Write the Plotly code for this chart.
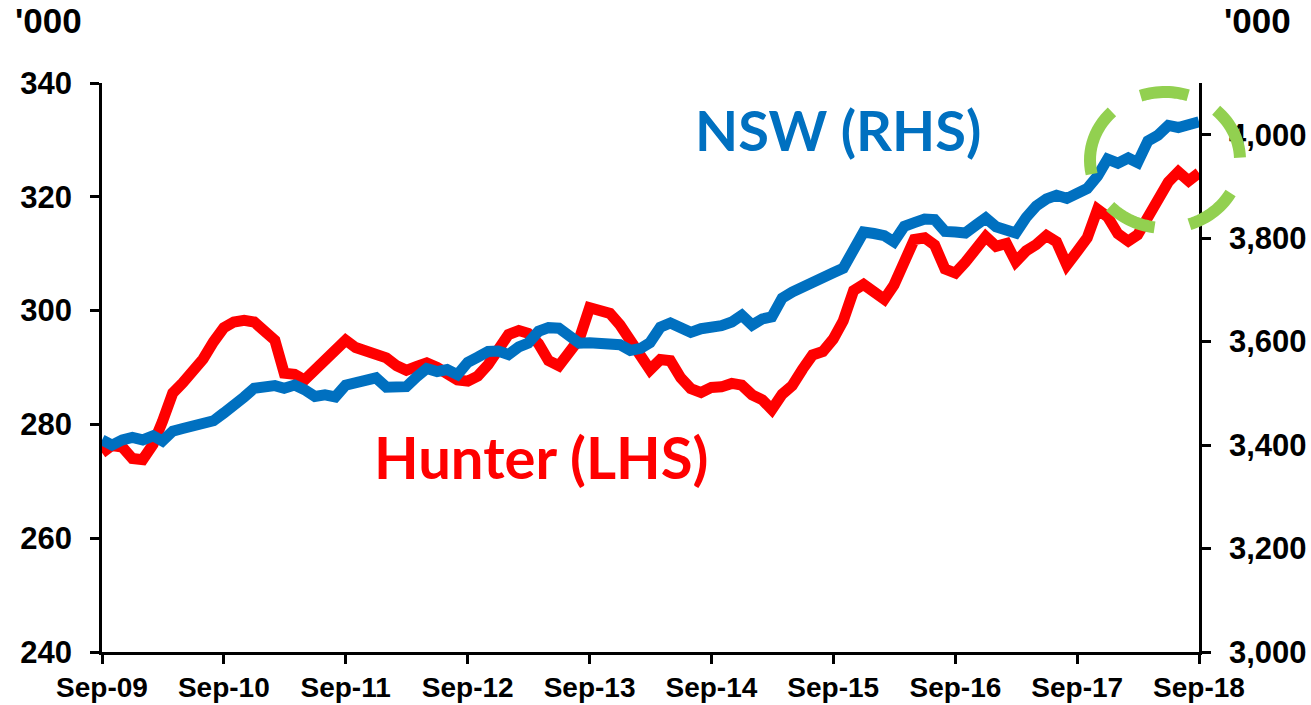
import numpy as np
import pandas as pd
import plotly.graph_objects as go

# ---- data ----
months = pd.date_range("2009-09-01", periods=109, freq="MS")

hunter = [275.0, 276.3, 276.0, 274.0, 273.8, 276.5, 280.5, 285.5, 287.3, 289.5,
          291.5, 294.5, 297.0, 298.0, 298.3, 298.0, 296.5, 294.8, 289.0, 288.8,
          287.8, 289.5, 291.0, 293.0, 294.8, 293.5, 293.0, 292.6, 291.7, 290.3,
          289.5, 290.2, 290.8, 290.0, 289.0, 287.8, 287.6, 288.5, 290.5, 292.8,
          295.8, 296.5, 296.0, 294.2, 291.2, 290.3, 292.6, 295.0, 300.5, 300.2,
          299.5, 297.5, 294.8, 291.8, 289.6, 291.4, 291.2, 288.2, 286.3, 285.6,
          286.5, 286.6, 287.2, 286.9, 285.2, 284.3, 282.6, 285.3, 286.8, 289.7,
          292.2, 292.8, 295.0, 298.2, 303.5, 304.6, 303.1, 302.0, 304.5, 309.0,
          312.5, 312.8, 311.5, 307.3, 306.6, 308.5, 311.0, 313.0, 311.3, 311.8,
          308.6, 310.5, 311.6, 313.2, 312.1, 308.0, 310.4, 312.8, 317.8, 316.5,
          313.5, 312.2, 313.3, 316.2, 319.8, 322.6, 324.4, 322.8, 324.2]

nsw = [3410, 3400, 3410, 3415, 3410, 3418, 3408, 3427, 3432, 3437,
       3442, 3447, 3462, 3475, 3493, 3510, 3511, 3515, 3510, 3516,
       3507, 3494, 3497, 3493, 3516, 3521, 3530, 3530, 3512, 3510,
       3513, 3532, 3548, 3542, 3546, 3536, 3560, 3570, 3581, 3582,
       3575, 3590, 3597, 3620, 3627, 3626, 3612, 3597, 3598, 3597,
       3597, 3594, 3583, 3587, 3598, 3628, 3636, 3627, 3618, 3625,
       3627, 3631, 3638, 3651, 3632, 3644, 3648, 3684, 3696, 3704,
       3715, 3721, 3733, 3742, 3775, 3812, 3809, 3805, 3793, 3823,
       3830, 3837, 3836, 3813, 3812, 3810, 3825, 3839, 3822, 3815,
       3810, 3840, 3862, 3876, 3883, 3877, 3886, 3896, 3920, 3953,
       3945, 3955, 3946, 3988, 3999, 4018, 4014, 4020, 4025]

x_tick_vals = ["2009-09-01", "2010-09-01", "2011-09-01", "2012-09-01", "2013-09-01",
               "2014-09-01", "2015-09-01", "2016-09-01", "2017-09-01", "2018-09-01"]
x_tick_text = ["Sep-09", "Sep-10", "Sep-11", "Sep-12", "Sep-13",
               "Sep-14", "Sep-15", "Sep-16", "Sep-17", "Sep-18"]
left_ticks = [240, 260, 280, 300, 320, 340]
right_ticks = [3000, 3200, 3400, 3600, 3800, 4000]

# ---- figure ----
W, H = 1311, 705
ML, MR, MT, MB = 102, 112, 83, 53
PW, PH = W - ML - MR, H - MT - MB

RED = "#FF0000"
BLUE = "#0070C0"
GREEN = "#92D050"
TICKFONT = "Liberation Sans, Arial, sans-serif"

fig = go.Figure()
fig.add_trace(go.Scatter(x=months, y=hunter, mode="lines", name="Hunter (LHS)",
                         line=dict(color=RED, width=11), yaxis="y", cliponaxis=False))
fig.add_trace(go.Scatter(x=months, y=nsw, mode="lines", name="NSW (RHS)",
                         line=dict(color=BLUE, width=11), yaxis="y2", cliponaxis=False))

axis_common = dict(showgrid=False, zeroline=False, showline=True, linecolor="black",
                   linewidth=2.5, ticks="outside", ticklen=9, tickwidth=2.5,
                   tickcolor="black", automargin=False)

fig.update_layout(
    width=W, height=H,
    margin=dict(l=ML, r=MR, t=MT, b=MB, autoexpand=False),
    paper_bgcolor="white", plot_bgcolor="white",
    showlegend=False,
    xaxis=dict(type="date", range=["2009-09-01", "2018-09-01"],
               tickvals=x_tick_vals, ticktext=x_tick_text,
               tickfont=dict(family=TICKFONT, size=28, color="black", weight="bold"),
               ticklabelstandoff=0, **axis_common),
    yaxis=dict(range=[240, 340], tickvals=left_ticks,
               tickfont=dict(family=TICKFONT, size=31, color="black", weight="bold"),
               ticklabelstandoff=12, **axis_common),
    yaxis2=dict(range=[3000, 4100], tickvals=right_ticks, tickformat=",",
                overlaying="y", side="right", anchor="x",
                tickfont=dict(family=TICKFONT, size=31, color="black", weight="bold"),
                ticklabelstandoff=12, **axis_common),
)

def px_to_paper(px, py):
    return (px - ML) / PW, (H - MB - py) / PH

# '000 unit labels
for cx in (48, 1257):
    xp, yp = px_to_paper(cx, 21)
    fig.add_annotation(x=xp, y=yp, xref="paper", yref="paper", text="'000",
                       showarrow=False, xanchor="center", yanchor="middle",
                       font=dict(family=TICKFONT, size=35, color="black", weight="bold"))

# series labels
xp, yp = px_to_paper(838, 129)
fig.add_annotation(x=xp, y=yp, xref="paper", yref="paper", text="NSW (RHS)",
                   showarrow=False, xanchor="center", yanchor="middle",
                   font=dict(family="Lato, sans-serif", size=56, color=BLUE, weight="bold"))
xp, yp = px_to_paper(541, 456)
fig.add_annotation(x=xp, y=yp, xref="paper", yref="paper", text="Hunter (LHS)",
                   showarrow=False, xanchor="center", yanchor="middle",
                   font=dict(family="Lato, sans-serif", size=58, color=RED, weight="bold"))

# green dashed highlight circle (drawn as separate arcs)
ccx, ccy, rx, ry = 1165, 160, 75, 68
arcs = [(2, 47), (72, 109), (135, 192), (223, 262), (289, 331)]
path = ""
for a0, a1 in arcs:
    th = np.radians(np.linspace(a0, a1, 16))
    pts = [px_to_paper(ccx + rx * np.cos(t), ccy - ry * np.sin(t)) for t in th]
    path += "M" + " L".join(f"{p[0]:.5f},{p[1]:.5f}" for p in pts) + " "
fig.add_shape(type="path", path=path.strip(), xref="paper", yref="paper",
              line=dict(color=GREEN, width=12), layer="above")

fig.write_html("out.html", config={"displayModeBar": False},
               post_script="document.body.style.margin='0';document.body.style.overflow='hidden';")
